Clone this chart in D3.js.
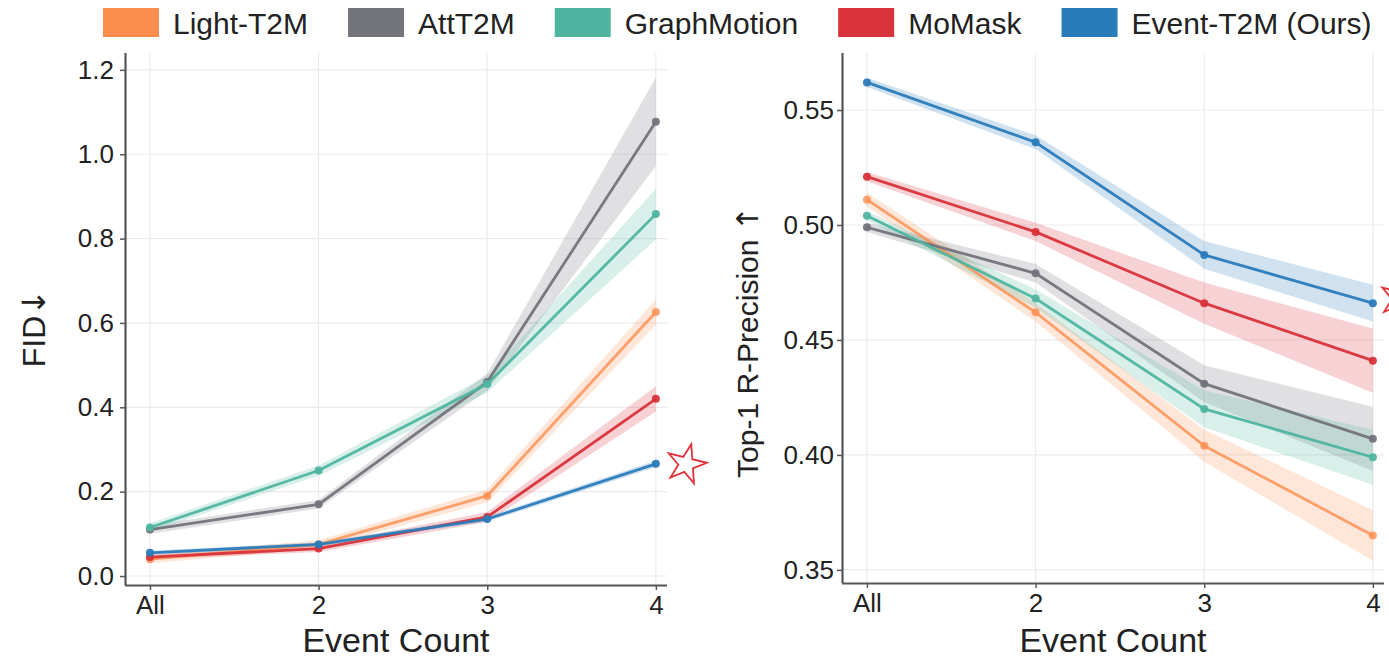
<!DOCTYPE html>
<html>
<head>
<meta charset="utf-8">
<script src="https://cdn.jsdelivr.net/npm/d3@7"></script>
<style>
  body { margin: 0; background: #fff; }
  svg { font-family: "Liberation Sans", Arial, sans-serif; }
</style>
</head>
<body>
<svg id="chart"></svg>
<script>
// categories and series
var categories = ["All", "2", "3", "4"];
var methods = ["Light-T2M", "AttT2M", "GraphMotion", "MoMask", "Event-T2M (Ours)"];
var colors = ["#fb8d4f", "#73737b", "#4fb5a0", "#d8333a", "#2a7bb9"];

// FID (lower is better)
var fidLight = [0.040, 0.075, 0.190, 0.626];
var fidAtt   = [0.110, 0.170, 0.460, 1.077];
var fidGraph = [0.115, 0.250, 0.455, 0.858];
var fidMo    = [0.045, 0.065, 0.140, 0.420];
var fidEvent = [0.055, 0.075, 0.135, 0.266];
// band half widths
var fidLightErr = [0.010, 0.010, 0.015, 0.030];
var fidAttErr   = [0.010, 0.010, 0.020, 0.105];
var fidGraphErr = [0.010, 0.012, 0.020, 0.060];
var fidMoErr    = [0.005, 0.008, 0.012, 0.030];
var fidEventErr = [0.005, 0.005, 0.006, 0.008];

// Top-1 R-Precision (higher is better)
var rpLight = [0.511, 0.462, 0.404, 0.365];
var rpAtt   = [0.499, 0.479, 0.431, 0.407];
var rpGraph = [0.504, 0.468, 0.420, 0.399];
var rpMo    = [0.521, 0.497, 0.466, 0.441];
var rpEvent = [0.562, 0.536, 0.487, 0.466];
var rpLightErr = [0.003, 0.004, 0.007, 0.011];
var rpAttErr   = [0.002, 0.004, 0.008, 0.014];
var rpGraphErr = [0.002, 0.004, 0.008, 0.012];
var rpMoErr    = [0.002, 0.004, 0.009, 0.014];
var rpEventErr = [0.002, 0.003, 0.006, 0.008];

var fidTicks = [0.0, 0.2, 0.4, 0.6, 0.8, 1.0, 1.2];
var rpTicks = [0.35, 0.40, 0.45, 0.50, 0.55];

// star annotations [category position, value]
var fidStar = [3.18, 0.265];
var rpStar = [3.16, 0.468];

var svg = d3.select("#chart").attr("width", 1389).attr("height", 662);

function drawPanel(opts) {
    var g = svg.append("g");
    var x = d3.scaleLinear().domain([-0.148, 3.066]).range([opts.left, opts.left + 542]);
    var y = d3.scaleLinear().domain(opts.yDomain).range([opts.bottom, 53]);

    // grid
    g.append("g").selectAll("line").data(opts.yTicks).enter().append("line")
        .attr("x1", opts.left).attr("x2", opts.left + 542)
        .attr("y1", function (d) { return y(d); }).attr("y2", function (d) { return y(d); })
        .attr("stroke", "#ebebeb").attr("stroke-width", 1.2);
    g.append("g").selectAll("line").data(categories).enter().append("line")
        .attr("x1", function (d, i) { return x(i); }).attr("x2", function (d, i) { return x(i); })
        .attr("y1", 53).attr("y2", opts.bottom)
        .attr("stroke", "#ebebeb").attr("stroke-width", 1.2);

    var area = d3.area()
        .x(function (d) { return x(d.i); })
        .y0(function (d) { return y(d.v - d.e); })
        .y1(function (d) { return y(d.v + d.e); });
    var line = d3.line()
        .x(function (d) { return x(d.i); })
        .y(function (d) { return y(d.v); });

    opts.series.forEach(function (s, k) {
        var pts = s.map(function (v, i) { return { i: i, v: v, e: opts.errs[k][i] }; });
        g.append("path").attr("d", area(pts))
            .attr("fill", colors[k]).attr("fill-opacity", 0.22);
    });
    opts.series.forEach(function (s, k) {
        var pts = s.map(function (v, i) { return { i: i, v: v }; });
        var op = k === 0 ? 0.8 : 0.95;
        g.append("path").attr("d", line(pts))
            .attr("fill", "none").attr("stroke", colors[k])
            .attr("stroke-width", 2.8).attr("stroke-opacity", op);
        g.append("g").selectAll("circle").data(pts).enter().append("circle")
            .attr("cx", function (d) { return x(d.i); })
            .attr("cy", function (d) { return y(d.v); })
            .attr("r", 4).attr("fill", colors[k]).attr("fill-opacity", op);
    });

    // axes
    var ya = g.append("g").attr("transform", "translate(" + opts.left + ",0)")
        .call(d3.axisLeft(y).tickValues(opts.yTicks).tickSize(5).tickPadding(opts.pad)
            .tickFormat(d3.format(opts.fmt)));
    var xa = g.append("g").attr("transform", "translate(0," + opts.bottom + ")")
        .call(d3.axisBottom(x).tickValues([0, 1, 2, 3]).tickSize(5).tickPadding(6)
            .tickFormat(function (d) { return categories[d]; }));
    [ya, xa].forEach(function (a) {
        a.select(".domain").attr("stroke", "#555").attr("stroke-width", 2.2);
        a.selectAll(".tick line").attr("stroke", "#555").attr("stroke-width", 1.5);
        a.selectAll(".tick text").attr("fill", "#222").style("font-size", "26px")
            .style("font-family", "Liberation Sans, Arial, sans-serif");
    });
    ya.select(".domain").attr("d", "M0.5," + opts.bottom + "V53");
    xa.select(".domain").attr("d", "M" + opts.left + ",0.5H" + (opts.left + 542));

    g.append("text").attr("x", opts.left + 271).attr("y", 652)
        .attr("text-anchor", "middle").attr("fill", "#222").style("font-size", "34px")
        .text("Event Count");
    var lab = g.append("text")
        .attr("transform", "translate(" + opts.labelX + "," + opts.labelY + ") rotate(-90)")
        .attr("text-anchor", "middle").attr("fill", "#222").style("font-size", opts.labelSize);
    lab.append("tspan").text(opts.label);
    lab.append("tspan").style("font-family", "DejaVu Sans").text(opts.arrow);

    g.append("path")
        .attr("d", d3.symbol().type(d3.symbolStar).size(480)())
        .attr("transform", "translate(" + x(opts.star[0]) + "," + y(opts.star[1]) + ") rotate(14)")
        .attr("fill", "none").attr("stroke", "#e0323a").attr("stroke-width", 1.8);
}

drawPanel({
    left: 125, bottom: 585, yDomain: [-0.0213, 1.240], yTicks: fidTicks, fmt: ".1f", pad: 6,
    series: [fidLight, fidAtt, fidGraph, fidMo, fidEvent],
    errs: [fidLightErr, fidAttErr, fidGraphErr, fidMoErr, fidEventErr],
    label: "FID", arrow: "↓", labelX: 45, labelY: 328, labelSize: "32px", star: fidStar
});
drawPanel({
    left: 842, bottom: 583, yDomain: [0.3443, 0.5748], yTicks: rpTicks, fmt: ".2f", pad: 3,
    series: [rpLight, rpAtt, rpGraph, rpMo, rpEvent],
    errs: [rpLightErr, rpAttErr, rpGraphErr, rpMoErr, rpEventErr],
    label: "Top-1 R-Precision ", arrow: "↑", labelX: 758, labelY: 342, labelSize: "30px", star: rpStar
});

// legend
var legend = svg.append("g");
var lx = 103;
methods.forEach(function (m, k) {
    legend.append("rect").attr("x", lx).attr("y", 8).attr("width", 56).attr("height", 29)
        .attr("fill", colors[k]);
    var t = legend.append("text").attr("x", lx + 70).attr("y", 34)
        .attr("fill", "#222").style("font-size", "30px").text(m);
    lx += 70 + t.node().getComputedTextLength() + 40;
});
</script>
</body>
</html>
